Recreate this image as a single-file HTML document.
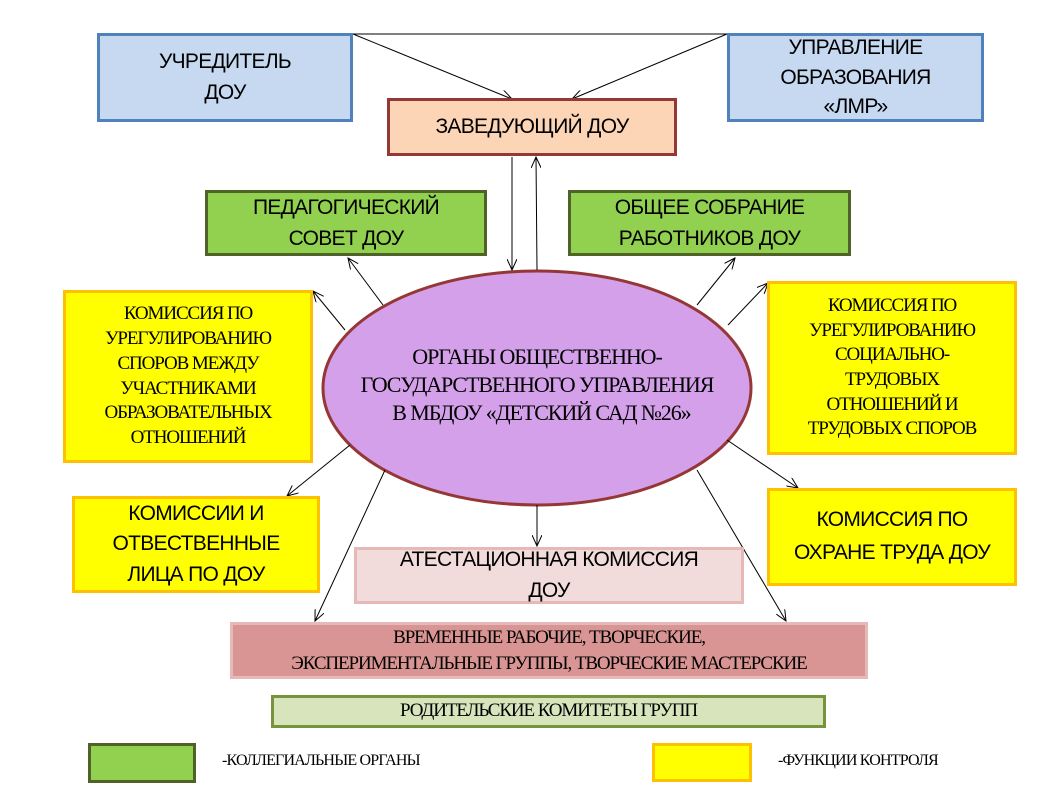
<!DOCTYPE html>
<html><head><meta charset="utf-8"><style>
body{margin:0;width:1055px;height:788px;background:#fff;position:relative;overflow:hidden;font-family:"Liberation Sans",sans-serif}
.b{position:absolute;box-sizing:border-box;display:flex;align-items:center;justify-content:center;text-align:center;color:#000;white-space:nowrap}
.s{font-family:"Liberation Sans",sans-serif;font-size:21px;letter-spacing:-0.7px;line-height:1.45}
.r{font-family:"Liberation Serif",serif;font-size:19px;letter-spacing:-1.1px;line-height:1.3}
.blue{background:#c6d9f1;border:3px solid #4f81bd}
.grn{background:#92d050;border:3px solid #4f6228}
.yel{background:#ffff00;border:3px solid #ffc000}
svg{position:absolute;left:0;top:0}
</style></head><body>
<svg width="1055" height="788">
<defs><marker id="a" markerWidth="12" markerHeight="10" refX="11" refY="5" orient="auto" markerUnits="userSpaceOnUse"><path d="M0,0 L11,5 L0,10" fill="none" stroke="#000" stroke-width="1"/></marker></defs>
<ellipse cx="537" cy="388" rx="214" ry="117" fill="#d4a0ea" stroke="#953735" stroke-width="3"/>
<g stroke="#000" stroke-width="1" fill="none">
<line x1="353" y1="34" x2="727" y2="34"/>
<line x1="353" y1="34" x2="512" y2="99" marker-end="url(#a)"/>
<line x1="727" y1="34" x2="572" y2="99" marker-end="url(#a)"/>
<line x1="512" y1="157" x2="512" y2="270" marker-end="url(#a)"/>
<line x1="537" y1="270" x2="536" y2="157" marker-end="url(#a)"/>
<line x1="383" y1="305" x2="348" y2="258" marker-end="url(#a)"/>
<line x1="697" y1="305" x2="735" y2="258" marker-end="url(#a)"/>
<line x1="345" y1="330" x2="313" y2="291" marker-end="url(#a)"/>
<line x1="728" y1="325" x2="768" y2="283" marker-end="url(#a)"/>
<line x1="350" y1="445" x2="287" y2="496" marker-end="url(#a)"/>
<line x1="727" y1="440" x2="798" y2="488" marker-end="url(#a)"/>
<line x1="537" y1="505" x2="537" y2="546" marker-end="url(#a)"/>
<line x1="385" y1="470" x2="315" y2="621" marker-end="url(#a)"/>
<line x1="697" y1="470" x2="786" y2="621" marker-end="url(#a)"/>
</g>
</svg>
<div class="b blue s" style="left:97px;top:33px;width:256px;height:89px">УЧРЕДИТЕЛЬ<br>ДОУ</div>
<div class="b blue s" style="left:727px;top:33px;width:257px;height:89px;line-height:1.4">УПРАВЛЕНИЕ<br>ОБРАЗОВАНИЯ<br>«ЛМР»</div>
<div class="b s" style="left:387px;top:98px;width:290px;height:58px;background:#fbd5b5;border:3px solid #953735">ЗАВЕДУЮЩИЙ ДОУ</div>
<div class="b grn s" style="left:205px;top:190px;width:282px;height:66px;line-height:1.5">ПЕДАГОГИЧЕСКИЙ<br>СОВЕТ ДОУ</div>
<div class="b grn s" style="left:568px;top:190px;width:283px;height:66px;line-height:1.5">ОБЩЕЕ СОБРАНИЕ<br>РАБОТНИКОВ ДОУ</div>
<div class="b yel r" style="left:63px;top:290px;width:250px;height:173px">КОМИССИЯ ПО<br>УРЕГУЛИРОВАНИЮ<br>СПОРОВ МЕЖДУ<br>УЧАСТНИКАМИ<br>ОБРАЗОВАТЕЛЬНЫХ<br>ОТНОШЕНИЙ</div>
<div class="b yel r" style="left:767px;top:281px;width:250px;height:174px">КОМИССИЯ ПО<br>УРЕГУЛИРОВАНИЮ<br>СОЦИАЛЬНО-<br>ТРУДОВЫХ<br>ОТНОШЕНИЙ И<br>ТРУДОВЫХ СПОРОВ</div>
<div class="b r" style="left:325px;top:330px;width:424px;height:110px;font-size:22px;line-height:1.28;letter-spacing:-1.1px">ОРГАНЫ ОБЩЕСТВЕННО-<br>ГОСУДАРСТВЕННОГО УПРАВЛЕНИЯ<br>&nbsp;&nbsp;В МБДОУ «ДЕТСКИЙ САД №26»</div>
<div class="b yel s" style="left:72px;top:496px;width:248px;height:97px;line-height:1.45">КОМИССИИ И<br>ОТВЕСТВЕННЫЕ<br>ЛИЦА ПО ДОУ</div>
<div class="b yel s" style="left:767px;top:488px;width:250px;height:98px;line-height:1.55">КОМИССИЯ ПО<br>ОХРАНЕ ТРУДА ДОУ</div>
<div class="b s" style="left:354px;top:547px;width:390px;height:57px;background:#f2dcdb;border:3px solid #e6b9b8;line-height:1.45">АТЕСТАЦИОННАЯ КОМИССИЯ<br>ДОУ</div>
<div class="b r" style="left:230px;top:622px;width:638px;height:57px;background:#d99594;border:3px solid #e6b9b8;line-height:1.35">ВРЕМЕННЫЕ РАБОЧИЕ, ТВОРЧЕСКИЕ,<br>ЭКСПЕРИМЕНТАЛЬНЫЕ ГРУППЫ, ТВОРЧЕСКИЕ МАСТЕРСКИЕ</div>
<div class="b r" style="left:271px;top:695px;width:555px;height:33px;background:#d8e4bc;border:3px solid #77933c">РОДИТЕЛЬСКИЕ КОМИТЕТЫ ГРУПП</div>
<div class="b grn" style="left:88px;top:743px;width:108px;height:40px"></div>
<div class="b" style="left:222px;top:750px;height:22px;justify-content:flex-start;font-family:'Liberation Serif',serif;font-size:16px;letter-spacing:-0.8px">-КОЛЛЕГИАЛЬНЫЕ ОРГАНЫ</div>
<div class="b yel" style="left:652px;top:743px;width:100px;height:39px"></div>
<div class="b" style="left:778px;top:750px;height:22px;justify-content:flex-start;font-family:'Liberation Serif',serif;font-size:16px;letter-spacing:-0.8px">-ФУНКЦИИ КОНТРОЛЯ</div>
</body></html>
